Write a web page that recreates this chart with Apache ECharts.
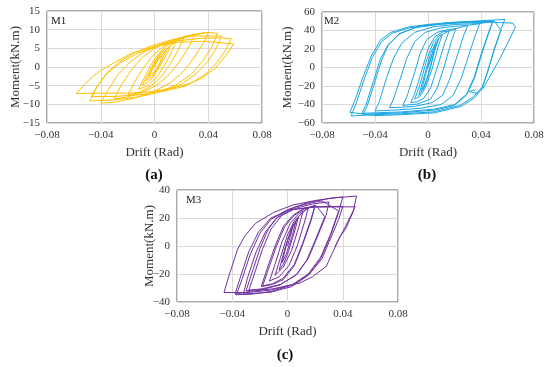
<!DOCTYPE html>
<html><head><meta charset="utf-8">
<script src="https://cdn.jsdelivr.net/npm/echarts@6/dist/echarts.min.js"></script>
<style>html,body{margin:0;padding:0;background:#fff}#c{width:550px;height:367px}</style>
</head><body><div id="c"></div>
<script>
// ---- data ----
const panelNames = ['M1', 'M2', 'M3'];
const captions = ['(a)', '(b)', '(c)'];
const xRange = [-0.08, 0.08, 0.04];
const yRanges = [[-15, 15, 5], [-60, 60, 20], [-40, 40, 20]];
const xName = 'Drift (Rad)';
const yName = 'Moment(kN.m)';

// M1 hysteresis loops (drift rad, moment kN.m)
const m1Loops = [
  [[0,0],[0.003,2.2],[0.006,3.2],[0.004,1.2],[0.001,-0.8],[-0.002,-2.0],[-0.004,-2.6],[-0.001,-0.2],[0.003,2.2],[0.006,3.2]],
  [[0.009,4.5],[0.006,2.2],[0.002,-0.6],[-0.002,-2.6],[-0.006,-3.6],[-0.003,-1.2],[0.001,1.6],[0.005,3.6],[0.009,4.5]],
  [[0.012,5.7],[0.009,3.4],[0.004,0.2],[-0.001,-2.6],[-0.005,-4.2],[-0.009,-4.8],[-0.005,-2.0],[0,1.4],[0.005,4.0],[0.012,5.7]],
  [[0.016,6.9],[0.013,4.2],[0.008,0.8],[0.002,-2.6],[-0.005,-5.0],[-0.012,-6.0],[-0.008,-3.2],[-0.003,0.4],[0.003,3.6],[0.009,5.8],[0.016,6.9]],
  [[0.022,7.9],[0.018,4.8],[0.012,1.0],[0.005,-2.6],[-0.003,-5.2],[-0.012,-6.9],[-0.02,-7.6],[-0.015,-4.2],[-0.009,-0.6],[-0.002,2.8],[0.006,5.4],[0.014,7.0],[0.022,7.9]],
  [[0.03,8.8],[0.026,5.6],[0.019,1.6],[0.011,-2.0],[0.002,-4.8],[-0.009,-6.8],[-0.02,-8.0],[-0.03,-8.6],[-0.025,-5.0],[-0.018,-1.2],[-0.01,2.2],[-0.001,4.8],[0.01,6.8],[0.02,8.0],[0.03,8.8]],
  [[0.04,9.3],[0.036,6.2],[0.029,2.2],[0.021,-1.4],[0.011,-4.4],[-0.002,-6.8],[-0.016,-8.4],[-0.028,-9.3],[-0.04,-9.7],[-0.034,-5.8],[-0.027,-2.0],[-0.018,1.4],[-0.008,4.0],[0.004,6.0],[0.018,7.6],[0.03,8.6],[0.04,9.3]],
  [[0.047,9.0],[0.043,5.6],[0.036,1.6],[0.027,-2.0],[0.016,-4.8],[0.003,-6.8],[-0.012,-8.0],[-0.03,-8.8],[-0.048,-9.1],[-0.043,-5.4],[-0.036,-1.8],[-0.027,1.2],[-0.016,3.6],[-0.003,5.6],[0.012,7.2],[0.028,8.3],[0.05,8.3]],
  [[0.046,5.0],[0.04,1.6],[0.031,-1.8],[0.02,-4.6],[0.006,-6.4],[-0.01,-7.4],[-0.03,-7.9],[-0.047,-7.9],[-0.042,-4.8],[-0.035,-1.6],[-0.025,1.2],[-0.013,3.6],[0.001,5.5],[0.017,7.0],[0.034,7.7],[0.05,7.8],[0.057,7.6]],
  [[0.053,4.6],[0.047,1.4],[0.039,-1.6],[0.028,-4.2],[0.014,-5.6],[-0.002,-6.6],[-0.02,-7.0],[-0.04,-7.0],[-0.058,-7.1],[-0.052,-4.6],[-0.046,-2.6],[-0.041,-1.2],[-0.029,1.4],[-0.017,3.7],[0,5.5],[0.016,6.6],[0.036,6.9],[0.059,6.2]],
  [[0.053,3.0],[0.045,-0.4],[0.035,-3.0],[0.022,-5.2],[0.006,-6.6]]
];

// M2 hysteresis loops
const m2Loops = [
  [[0,0],[0.004,18],[0.006,25],[0.004,14],[0,-8],[-0.003,-20],[-0.005,-25],[0,2],[0.004,18],[0.006,25]],
  [[0.008,31],[0.005,18],[0.001,-5],[-0.003,-22],[-0.007,-30],[-0.003,-10],[0.002,15],[0.006,28],[0.008,31]],
  [[0.011,36],[0.008,24],[0.003,-2],[-0.002,-22],[-0.006,-31],[-0.01,-34],[-0.006,-18],[-0.001,8],[0.004,27],[0.008,34],[0.011,36]],
  [[0.016,39.5],[0.013,28],[0.007,0],[0.002,-22],[-0.003,-33],[-0.008,-37],[-0.013,-38],[-0.01,-28],[-0.004,0],[0,20],[0.005,33],[0.011,38.5],[0.016,39.5]],
  [[0.021,42],[0.018,30],[0.012,0],[0.007,-22],[0.002,-34],[-0.008,-39.5],[-0.019,-41],[-0.016,-32],[-0.01,-5],[-0.006,15],[-0.001,30],[0.007,38],[0.015,41],[0.021,42]],
  [[0.03,45.5],[0.027,35],[0.021,8],[0.016,-14],[0.011,-30],[0.003,-38],[-0.01,-42],[-0.02,-43],[-0.029,-43.5],[-0.026,-34],[-0.02,-8],[-0.016,10],[-0.01,28],[-0.002,38],[0.01,43],[0.02,44.5],[0.03,45.5]],
  [[0.039,47.5],[0.036,36],[0.03,10],[0.025,-12],[0.019,-30],[0.01,-40],[-0.005,-44],[-0.025,-46],[-0.04,-47],[-0.037,-38],[-0.031,-10],[-0.026,10],[-0.02,26],[-0.01,38],[0.004,44],[0.02,46.5],[0.039,47.5]],
  [[0.049,50],[0.046,38],[0.04,12],[0.035,-12],[0.029,-30],[0.02,-41],[0.005,-46],[-0.02,-49],[-0.049,-50.5],[-0.046,-42],[-0.04,-15],[-0.035,8],[-0.03,24],[-0.022,36],[-0.01,43],[0.01,47],[0.03,49],[0.049,50]],
  [[0.046,39],[0.04,14],[0.035,-10],[0.029,-29],[0.02,-40],[0.005,-45],[-0.02,-48],[-0.05,-49.5],[-0.047,-41],[-0.041,-14],[-0.036,9],[-0.03,25],[-0.021,37],[-0.008,44],[0.012,48],[0.03,49.5],[0.05,50.5]],
  [[0.055,40],[0.05,20],[0.045,-5],[0.041,-22],[0.035,-33],[0.025,-42],[0.005,-49],[-0.02,-51],[-0.04,-52],[-0.059,-48.4],[-0.055,-35],[-0.049,-10],[-0.043,12],[-0.036,29.4],[-0.028,38],[-0.015,43.7],[0,46.6],[0.02,49],[0.04,50.5],[0.058,52]],
  [[0.055,41],[0.05,19],[0.045,-4],[0.041,-21],[0.034,-32],[0.024,-41],[0.004,-48],[-0.02,-50],[-0.04,-51],[-0.058,-52.3],[-0.054,-38],[-0.048,-12],[-0.042,11],[-0.035,28],[-0.027,37],[-0.014,43],[0.002,46],[0.022,48],[0.045,49],[0.064,48],[0.066,43.7]],
  [[0.055,11.5],[0.0416,-22.6],[0.037,-28],[0.031,-26],[0.036,-24]]
];

// M3 hysteresis loops
const m3Loops = [
  [[0,0],[0.004,14],[0.006,17],[0.003,6],[-0.001,-6],[-0.004,-12],[0,4],[0.004,14],[0.006,17]],
  [[0.008,21],[0.005,10],[0,-6],[-0.003,-13],[-0.006,-17],[-0.002,-2],[0.003,13],[0.008,21]],
  [[0.011,24],[0.008,13],[0.003,-3],[-0.003,-15],[-0.009,-21],[-0.005,-8],[0,8],[0.005,18],[0.011,24]],
  [[0.015,27],[0.012,16],[0.007,0],[0.001,-14],[-0.006,-22],[-0.013,-25],[-0.009,-13],[-0.004,3],[0.002,16],[0.008,23],[0.015,27]],
  [[0.02,29],[0.017,19],[0.011,2],[0.005,-13],[-0.003,-23],[-0.011,-27],[-0.018,-28.5],[-0.014,-17],[-0.008,0],[-0.002,14],[0.005,22],[0.012,26.5],[0.02,29]],
  [[0.017,18],[0.011,1],[0.005,-14],[-0.003,-24],[-0.011,-27.5],[-0.019,-29],[-0.015,-17],[-0.009,0],[-0.003,14],[0.004,22],[0.012,27],[0.021,28.5]],
  [[0.027,21],[0.02,4],[0.014,-10],[0.006,-21],[-0.006,-28],[-0.018,-31],[-0.028,-31.5],[-0.024,-20],[-0.018,-2],[-0.012,12],[-0.004,22],[0.006,27],[0.018,30],[0.03,31.5]],
  [[0.028,22],[0.021,5],[0.015,-9],[0.007,-20],[-0.005,-27.5],[-0.018,-30.5],[-0.03,-32],[-0.026,-20],[-0.02,-2],[-0.014,12],[-0.006,22],[0.006,28],[0.018,31],[0.025,32.2],[0.028,30.5]],
  [[0.037,25],[0.031,8],[0.024,-8],[0.015,-20],[0.003,-28],[-0.012,-32.5],[-0.027,-34.5],[-0.037,-34.8],[-0.033,-24],[-0.027,-6],[-0.02,9],[-0.012,19],[0,26],[0.015,31],[0.03,34],[0.04,35]],
  [[0.037,24],[0.031,7],[0.024,-9],[0.015,-21],[0.003,-29],[-0.012,-33],[-0.032,-34.3],[-0.029,-23],[-0.023,-5],[-0.016,10],[-0.008,20],[0.004,26],[0.02,28],[0.04,28.3]],
  [[0.037,19],[0.031,5],[0.025,-9],[0.016,-20],[0.004,-27.5],[-0.012,-31.5],[-0.03,-33.3],[-0.046,-33.2],[-0.042,-20],[-0.036,-2],[-0.031,7],[-0.023,16.3],[-0.01,24],[0.004,29.3],[0.02,32.5],[0.035,34.5],[0.05,35.7]],
  [[0.0476,24.6],[0.042,12],[0.038,6.8],[0.033,-4],[0.028,-14.6],[0.018,-22],[0.009,-26.4],[-0.01,-30.5],[-0.027,-32.4],[-0.038,-34.5],[-0.034,-22],[-0.028,-4],[-0.021,10],[-0.012,20],[0.002,26],[0.02,27.8],[0.049,28]],
  [[0.042,14],[0.0344,-0.4]]
];

const loopSets = [m1Loops, m2Loops, m3Loops];
const colors = ['#FFC000', '#1BA6E2', '#7030A0'];

// ---- layout ----
const grids = [
  {left: 47, top: 11, width: 215, height: 112},
  {left: 322, top: 12, width: 212, height: 111},
  {left: 177, top: 190, width: 221, height: 112}
];
const yNameGaps = [25, 28, 21];
const captionPos = [[154, 175], [427, 175], [285, 355]];
const panelLabelPos = [[51, 16], [324, 16], [186, 195]];

const FONT = 'Liberation Serif, Times New Roman, serif';
const fmt = v => {
  if (Math.abs(v) < 1e-9) return '0';
  const a = Math.round(Math.abs(v) * 100) / 100;
  return (v < 0 ? '\u2212' : '') + a;
};

const option = {
  animation: false,
  backgroundColor: '#fff',
  grid: grids.map(g => Object.assign({show: true, borderColor: '#595959', borderWidth: 1, backgroundColor: 'transparent'}, g)),
  xAxis: grids.map((g, i) => ({
    gridIndex: i, type: 'value', min: xRange[0], max: xRange[1], interval: xRange[2],
    axisLine: {show: false}, axisTick: {show: false},
    splitLine: {show: true, lineStyle: {color: '#d9d9d9', width: 1}},
    axisLabel: {formatter: fmt, fontFamily: FONT, fontSize: 11, color: '#333', margin: 7},
    name: xName, nameLocation: 'middle', nameGap: 23, nameMoveOverlap: false,
    nameTextStyle: {fontFamily: FONT, fontSize: 13, color: '#333'}
  })),
  yAxis: grids.map((g, i) => ({
    gridIndex: i, type: 'value', min: yRanges[i][0], max: yRanges[i][1], interval: yRanges[i][2],
    axisLine: {show: false}, axisTick: {show: false},
    splitLine: {show: true, lineStyle: {color: '#d9d9d9', width: 1}},
    axisLabel: {formatter: fmt, fontFamily: FONT, fontSize: 11, color: '#333', margin: 7},
    name: yName, nameLocation: 'middle', nameGap: yNameGaps[i], nameRotate: 90, nameMoveOverlap: false,
    nameTextStyle: {fontFamily: FONT, fontSize: 13, color: '#333'}
  })),
  series: loopSets.map((loops, i) => ({
    type: 'line', xAxisIndex: i, yAxisIndex: i,
    data: loops.flat(), symbol: 'none', showSymbol: false,
    lineStyle: {color: colors[i], width: 1}, itemStyle: {color: colors[i]},
    clip: true, silent: true
  })),
  graphic: [
    ...panelNames.map((t, i) => ({
      type: 'text', left: panelLabelPos[i][0], top: panelLabelPos[i][1], z: 100,
      style: {text: t, font: '11px ' + FONT, fill: '#222'}
    })),
    ...captions.map((t, i) => ({
      type: 'text', x: captionPos[i][0], y: captionPos[i][1], z: 100,
      style: {text: t, font: 'bold 15px ' + FONT, fill: '#111', textAlign: 'center', textVerticalAlign: 'middle'}
    }))
  ]
};
const chart = echarts.init(document.getElementById('c'), null, {renderer: 'canvas'});
chart.setOption(option);
</script></body></html>
